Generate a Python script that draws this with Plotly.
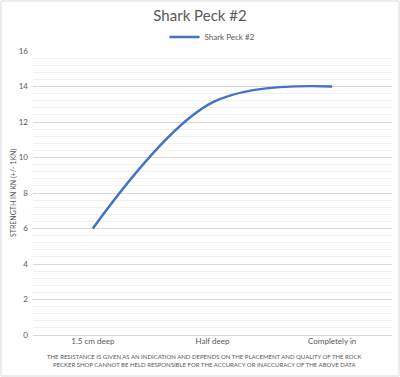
import plotly.graph_objects as go

categories = ["1.5 cm deep", "Half deep", "Completely in"]
values = [6, 13.1, 14]
series_name = "Shark Peck #2"
title_text = "Shark Peck #2"
y_title = "STRENGTH IN KN (+/- 1KN)"
footnote = ("THE RESISTANCE IS GIVEN AS AN INDICATION AND DEPENDS ON THE PLACEMENT AND QUALITY OF THE ROCK<br>"
            "PECKER SHOP CANNOT BE HELD RESPONSIBLE FOR THE ACCURACY OR INACCURACY OF THE ABOVE DATA")

FONT = "Lato, Liberation Sans, sans-serif"
GREY = "#595959"

fig = go.Figure()
fig.add_trace(go.Scatter(
    x=categories, y=values, mode="lines", name=series_name,
    line=dict(color="#4472c4", width=2.5, shape="spline", smoothing=1.0),
    showlegend=True,
))

W, H = 400, 377
ml, mr, mt, mb = 33, 8, 51, 42
pw, ph = W - ml - mr, H - mt - mb

fig.update_layout(
    width=W, height=H,
    margin=dict(l=ml, r=mr, t=mt, b=mb, autoexpand=False),
    paper_bgcolor="white", plot_bgcolor="white",
    font=dict(family=FONT, color=GREY, size=8),
    title=dict(text=title_text, x=0.5, xanchor="center", y=1 - 16 / H, yanchor="middle",
               font=dict(size=15, color=GREY, family=FONT)),
    showlegend=True,
    legend=dict(orientation="h", x=0.5, xanchor="center", y=1 + (mt - 37) / ph, yanchor="middle",
                font=dict(size=8, color=GREY), itemwidth=30, bgcolor="rgba(0,0,0,0)"),
    xaxis=dict(type="category", range=[-0.5, 2.5], showgrid=False, showline=False, automargin=False,
               ticks="", tickfont=dict(size=8, color=GREY), zeroline=False),
    yaxis=dict(range=[0, 16], dtick=2, showgrid=True, gridcolor="#d9d9d9", gridwidth=1, automargin=False,
               minor=dict(dtick=0.4, showgrid=True, gridcolor="#f0f0f0", gridwidth=1),
               zeroline=True, zerolinecolor="#d9d9d9", zerolinewidth=1,
               showline=False, ticks="", ticklabelstandoff=4, tickfont=dict(size=8, color=GREY)),
)

fig.add_annotation(text=y_title, xref="paper", yref="paper", x=-(ml - 13) / pw, y=0.5,
                   xanchor="center", yanchor="middle", showarrow=False, textangle=-90,
                   font=dict(size=7, color=GREY))

fig.add_annotation(text=footnote, xref="paper", yref="paper", x=(204 - ml) / pw, y=-(360 - (H - mb)) / ph,
                   xanchor="center", yanchor="middle", showarrow=False, align="center",
                   font=dict(size=6, color=GREY))

# outer chart border
fig.add_shape(type="rect", xref="paper", yref="paper",
              x0=-(ml - 1) / pw, x1=1 + (mr - 1) / pw, y0=-(mb - 1) / ph, y1=1 + (mt - 1) / ph,
              line=dict(color="#d9d9d9", width=1), fillcolor="rgba(0,0,0,0)", layer="below")

fig.write_html("out.html", config={"displayModeBar": False},
               post_script="document.body.style.margin='0';")
